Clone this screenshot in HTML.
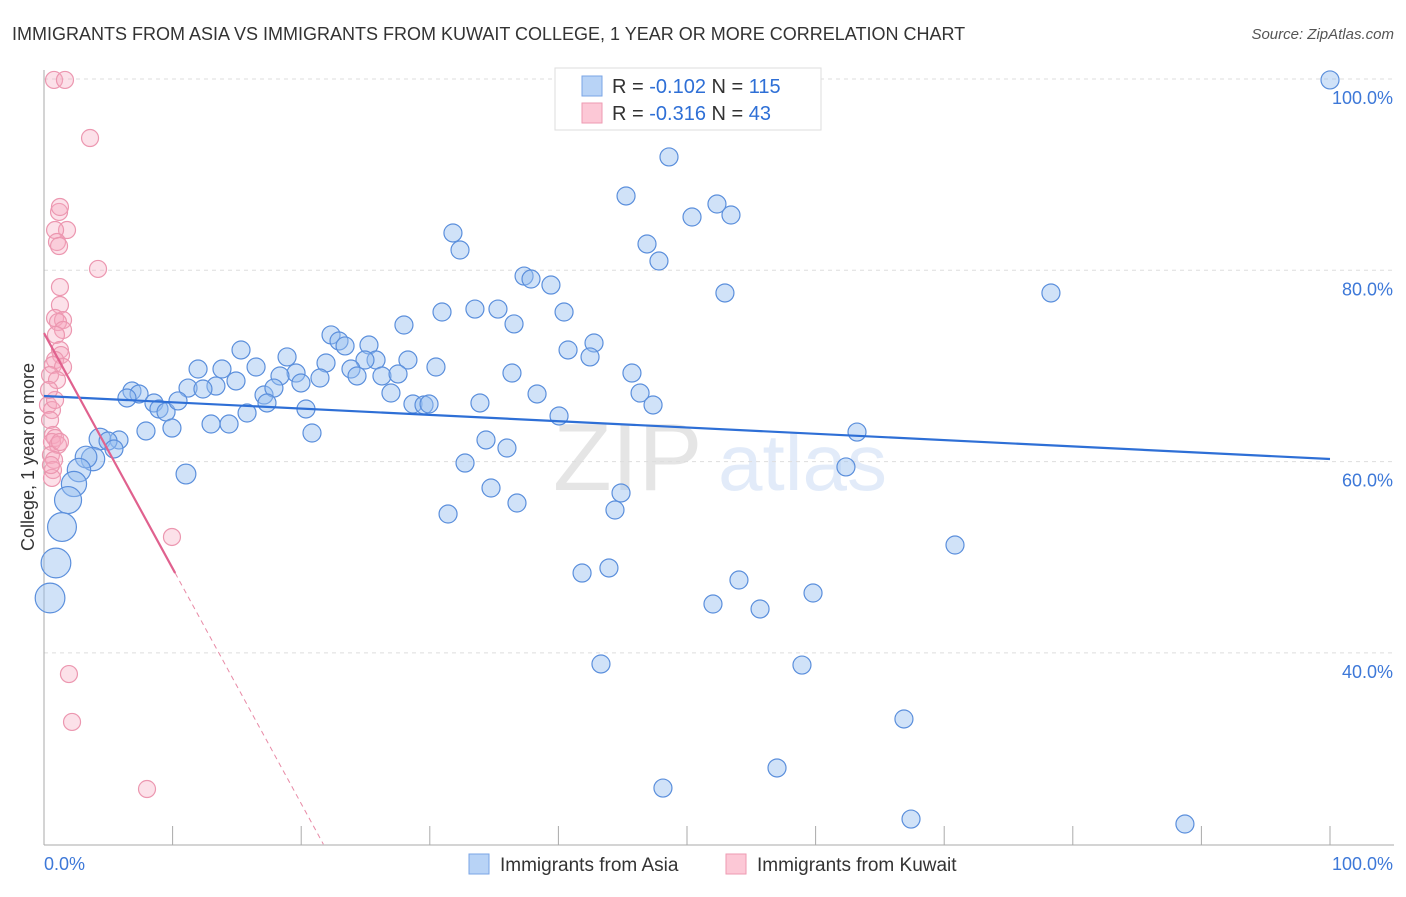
<!DOCTYPE html>
<html><head><meta charset="utf-8"><style>
body{margin:0;background:#fff;font-family:"Liberation Sans",sans-serif;}
svg text{font-family:"Liberation Sans",sans-serif;}
</style></head><body>
<svg id="chart" width="1406" height="892" xmlns="http://www.w3.org/2000/svg">
<text x="12" y="40" font-size="18" fill="#333">IMMIGRANTS FROM ASIA VS IMMIGRANTS FROM KUWAIT COLLEGE, 1 YEAR OR MORE CORRELATION CHART</text>
<text x="1394" y="39" font-size="15" fill="#555" font-style="italic" text-anchor="end">Source: ZipAtlas.com</text>
<g opacity="0.25">
<text x="553" y="490" font-size="96" font-family="Liberation Serif,serif" fill="#999">ZIP</text>
<text x="718" y="490" font-size="80" fill="#8fb3e8">atlas</text>
</g>
<g id="grid"></g><g id="axes"></g><g id="pts"></g><g id="lines"></g>
<text transform="translate(34,457) rotate(-90)" font-size="18" fill="#333" text-anchor="middle">College, 1 year or more</text>
<g>
<rect x="555" y="68" width="266" height="62" fill="#fff" stroke="#ddd"/>
<rect x="582" y="76" width="20" height="20" fill="#b8d3f6" stroke="#7aa5e6"/>
<rect x="582" y="103" width="20" height="20" fill="#fcc8d6" stroke="#ee9ab2"/>
<text x="612" y="93" font-size="20" fill="#333">R = <tspan fill="#2e6fd6">-0.102</tspan>   N = <tspan fill="#2e6fd6">115</tspan></text>
<text x="612" y="120" font-size="20" fill="#333">R = <tspan fill="#2e6fd6">-0.316</tspan>   N = <tspan fill="#2e6fd6"> 43</tspan></text>
</g>
<g>
<rect x="469" y="854" width="20" height="20" fill="#b8d3f6" stroke="#7aa5e6"/>
<text x="500" y="871" font-size="19" fill="#333">Immigrants from Asia</text>
<rect x="726" y="854" width="20" height="20" fill="#fcc8d6" stroke="#ee9ab2"/>
<text x="757" y="871" font-size="19" fill="#333">Immigrants from Kuwait</text>
</g>
</svg>
<script>
const yTicks=[100,80,60,40];
const yTickLabels=["100.0%","80.0%","60.0%","40.0%"];
const xTickLabels=["0.0%","100.0%"];
const asiaX=[100,48.6,45.26,52.33,50.39,53.42,31.8,32.35,46.89,47.82,37.33,37.87,39.42,52.95,78.3,30.95,33.51,35.3,40.44,36.55,27.99,22.32,22.94,23.41,25.27,15.32,42.77,40.75,42.46,18.9,25.82,28.3,11.98,16.49,21.93,24.96,23.87,30.48,13.84,19.6,18.35,26.28,27.53,24.34,45.72,36.39,11.2,13.37,14.93,19.98,21.46,6.84,7.39,6.45,12.36,17.11,17.88,26.98,38.34,46.35,17.34,8.55,8.94,9.49,10.42,28.69,29.55,29.94,20.37,15.79,47.36,33.9,40.05,12.99,14.39,9.95,7.93,20.84,63.22,34.37,36,4.35,5.83,4.98,5.44,3.81,3.27,32.74,62.36,11.04,2.72,2.33,34.76,44.87,36.78,1.87,31.42,44.4,1.4,70.84,0.93,41.84,43.93,54.04,59.8,52.02,55.68,0.47,43.31,58.94,66.87,57,48.13,67.42,88.72];
const asiaY=[99.9,91.85,87.77,86.93,85.57,85.78,83.9,82.12,82.75,80.97,79.4,79.09,78.46,77.63,77.63,75.64,75.95,75.95,75.64,74.39,74.28,73.24,72.61,72.09,72.19,71.67,72.4,71.67,70.94,70.94,70.62,70.62,69.68,69.89,70.31,70.62,69.68,69.89,69.68,69.26,68.95,68.95,69.16,68.95,69.26,69.26,67.69,67.9,68.43,68.22,68.74,67.38,67.07,66.65,67.59,66.96,67.69,67.17,67.07,67.17,66.13,66.13,65.5,65.19,66.34,66.02,65.92,66.02,65.5,65.08,65.92,66.13,64.77,63.93,63.93,63.51,63.2,62.99,63.09,62.26,61.42,62.36,62.26,62.15,61.32,60.27,60.48,59.85,59.44,58.7,59.12,57.66,57.24,56.72,55.67,55.98,54.52,54.94,53.16,51.28,49.4,48.35,48.88,47.62,46.26,45.11,44.59,45.74,38.84,38.73,33.09,27.97,25.87,22.63,22.11];
const asiaSize=[1,1,1,1,1,1,1,1,1,1,1,1,1,1,1,1,1,1,1,1,1,1,1,1,1,1,1,1,1,1,1,1,1,1,1,1,1,1,1,1,1,1,1,1,1,1,1,1,1,1,1,1,1,1,1,1,1,1,1,1,1,1,1,1,1,1,1,1,1,1,1,1,1,1,1,1,1,1,1,1,1,1.2,1,1,1,1.3,1.2,1,1,1.1,1.3,1.4,1,1,1,1.5,1,1,1.6,1,1.65,1,1,1,1,1,1,1.65,1,1,1,1,1,1,1];
const kuwaitX=[0.78,1.63,3.58,1.17,1.24,1.79,0.86,1.01,1.17,4.2,1.24,1.24,0.86,1.48,1.09,1.48,0.93,1.24,1.32,0.86,0.7,1.48,0.47,0.31,0.62,0.47,0.7,0.86,0.62,1.09,0.54,0.78,0.7,0.62,9.95,1.94,2.18,8.01,0.86,1.01,0.39,1.24,0.54];
const kuwaitY=[99.9,99.9,93.83,86.1,86.62,84.21,84.21,82.96,82.54,80.14,78.25,76.37,75.01,74.8,74.59,73.76,73.24,71.67,71.14,70.62,70.1,69.89,69.05,65.92,65.39,64.35,62.78,62.47,62.05,61.74,60.69,60.17,59.12,58.29,52.12,37.79,32.78,25.77,66.44,68.53,67.49,62.05,59.64];
const asiaFit=[66.86,-0.0659];
const kuwaitFit=[73.44,-2.46];
const kuwaitSolidEnd=10.2;
const X=v=>44+v*12.86, Y=v=>79+(100-v)*9.565;
const NS="http://www.w3.org/2000/svg";
function mk(tag,attrs,parent){const e=document.createElementNS(NS,tag);for(const k in attrs)e.setAttribute(k,attrs[k]);document.getElementById(parent).appendChild(e);return e;}
yTicks.forEach((t,i)=>{
 const g=mk('line',{x1:44,x2:1394,y1:Y(t),y2:Y(t),stroke:'#ddd','stroke-dasharray':'4,4'},'grid');
 
 
 const l=mk('text',{x:1393,y:Y(t)+25,'font-size':18,fill:'#3d78d8','text-anchor':'end'},'axes');
 l.textContent=yTickLabels[i];
 
 
});
const ax=mk('line',{x1:44,x2:44,y1:70,y2:845,stroke:'#aaa'},'axes');


const bx=mk('line',{x1:44,x2:1394,y1:845,y2:845,stroke:'#aaa'},'axes');


for(let i=0;i<=10;i++){const t=mk('line',{x1:X(i*10),x2:X(i*10),y1:826,y2:845,stroke:'#aaa'},'axes');
 
 }
[[0,'start',44],[1,'end',1393]].forEach(([i,a,x])=>{const l=mk('text',{x:x,y:870,'font-size':18,fill:'#3d78d8','text-anchor':a},'axes');l.textContent=xTickLabels[i];
 
 });
kuwaitX.forEach((x,i)=>{const c=mk('circle',{cx:X(x),cy:Y(kuwaitY[i]),r:8.5,fill:'rgba(246,170,192,0.35)',stroke:'#ec97b0','stroke-width':1.2},'pts');
 
 });
asiaX.forEach((x,i)=>{const c=mk('circle',{cx:X(x),cy:Y(asiaY[i]),r:9*asiaSize[i],fill:'rgba(150,190,240,0.45)',stroke:'#5b8fdc','stroke-width':1.2},'pts');
 
 });
const bl=mk('line',{x1:X(0),y1:Y(asiaFit[0]),x2:X(100),y2:Y(asiaFit[0]+asiaFit[1]*100),stroke:'#2e6fd6','stroke-width':2.2},'lines');


const pl=mk('line',{x1:X(0),y1:Y(kuwaitFit[0]),x2:X(kuwaitSolidEnd),y2:Y(kuwaitFit[0]+kuwaitFit[1]*kuwaitSolidEnd),stroke:'#e0618e','stroke-width':2.2},'lines');


const xe=(kuwaitFit[0]-20)/(-kuwaitFit[1]);
const pd=mk('line',{x1:X(kuwaitSolidEnd),y1:Y(kuwaitFit[0]+kuwaitFit[1]*kuwaitSolidEnd),x2:X(xe),y2:Y(20),stroke:'#e88aa6','stroke-width':1,'stroke-dasharray':'5,4'},'lines');


</script>
</body></html>
